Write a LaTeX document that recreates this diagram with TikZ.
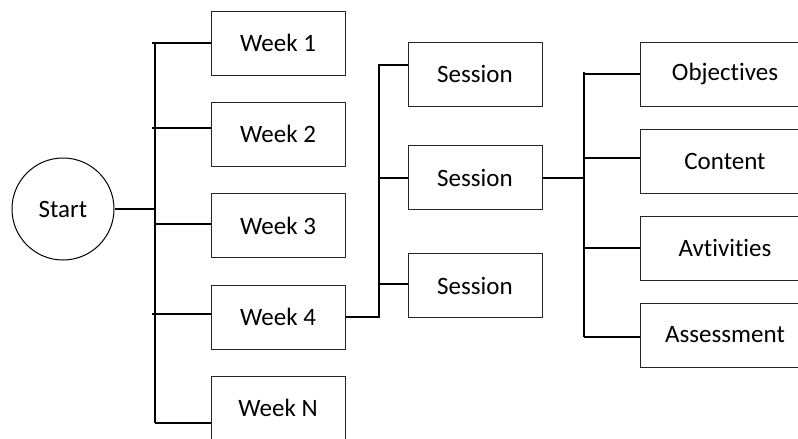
\documentclass[tikz,border=0pt]{standalone}
\usepackage{fontspec}
\setmainfont{Carlito}[Ligatures=NoCommon]

\begin{document}
\begin{tikzpicture}[x=1pt,y=-1pt,
    txt/.style={font=\fontsize{25}{30}\selectfont},
    box/.style={txt,draw=black!85,line width=1pt,minimum width=134pt,minimum height=64pt,inner sep=0pt},
    wide/.style={box,minimum width=170pt},
    link/.style={line width=2pt}]
  \useasboundingbox (0,0) rectangle (798,439);
  \clip (0,0) rectangle (798,439);
  % start
  \node[txt,circle,draw,line width=1pt,minimum size=102pt,inner sep=0pt] (st) at (63,209) {Start};
  % weeks
  \node[box] (w1) at (278,43) {Week 1};
  \node[box] (w2) at (278,134) {Week 2};
  \node[box] (w3) at (278,225.5) {Week 3};
  \node[box] (w4) at (278,317) {Week 4};
  \node[box] (wn) at (278,408) {Week N};
  % sessions
  \node[box] (s1) at (475,74) {Session};
  \node[box] (s2) at (475,177.5) {Session};
  \node[box] (s3) at (475,285.5) {Session};
  % parts of a session
  \node[wide] (ob) at (725,74) {Objectives};
  \node[wide] (co) at (725,161) {Content};
  \node[wide] (ac) at (725,248) {Avtivities};
  \node[wide] (as) at (725,335) {Assessment};
  % spines
  \coordinate (wt) at (155,43);
  \coordinate (wb) at (155,423);
  \coordinate (sa) at (379,65);
  \coordinate (sb) at (379,317);
  \coordinate (ca) at (584,72);
  \coordinate (cb) at (584,337);
  \draw [link] (wt) -- (wb);
  \draw [link] (st.east) -- (st.east -| wt);
  \draw [link] ([xshift=-3pt]wt) -- (w1.west);
  \draw [link] ([xshift=-3pt,yshift=6pt]w2.west -| wt) -- ([yshift=6pt]w2.west);
  \draw [link] ([yshift=1.5pt]w3.west -| wt) -- ([yshift=1.5pt]w3.west);
  \draw [link] ([xshift=-3pt,yshift=3pt]w4.west -| wt) -- ([yshift=3pt]w4.west);
  \draw [link] (wb) -- (wb -| wn.west);
  \draw [link] (w4.east) -- (sb) -- (sa) -- (sa -| s1.west);
  \draw [link] (s2.west -| sa) -- (s2.west);
  \draw [link] ([yshift=2pt]s3.west -| sa) -- ([yshift=2pt]s3.west);
  \draw [link] (s2.east) -- (s2.east -| ca);
  \draw [link] (ca) -- (cb);
  \draw [link] (ob.west -| ca) -- (ob.west);
  \draw [link] ([yshift=3pt]co.west -| ca) -- ([yshift=3pt]co.west);
  \draw [link] (ac.west -| ca) -- (ac.west);
  \draw [link] (cb) -- (cb -| as.west);
\end{tikzpicture}
\end{document}
